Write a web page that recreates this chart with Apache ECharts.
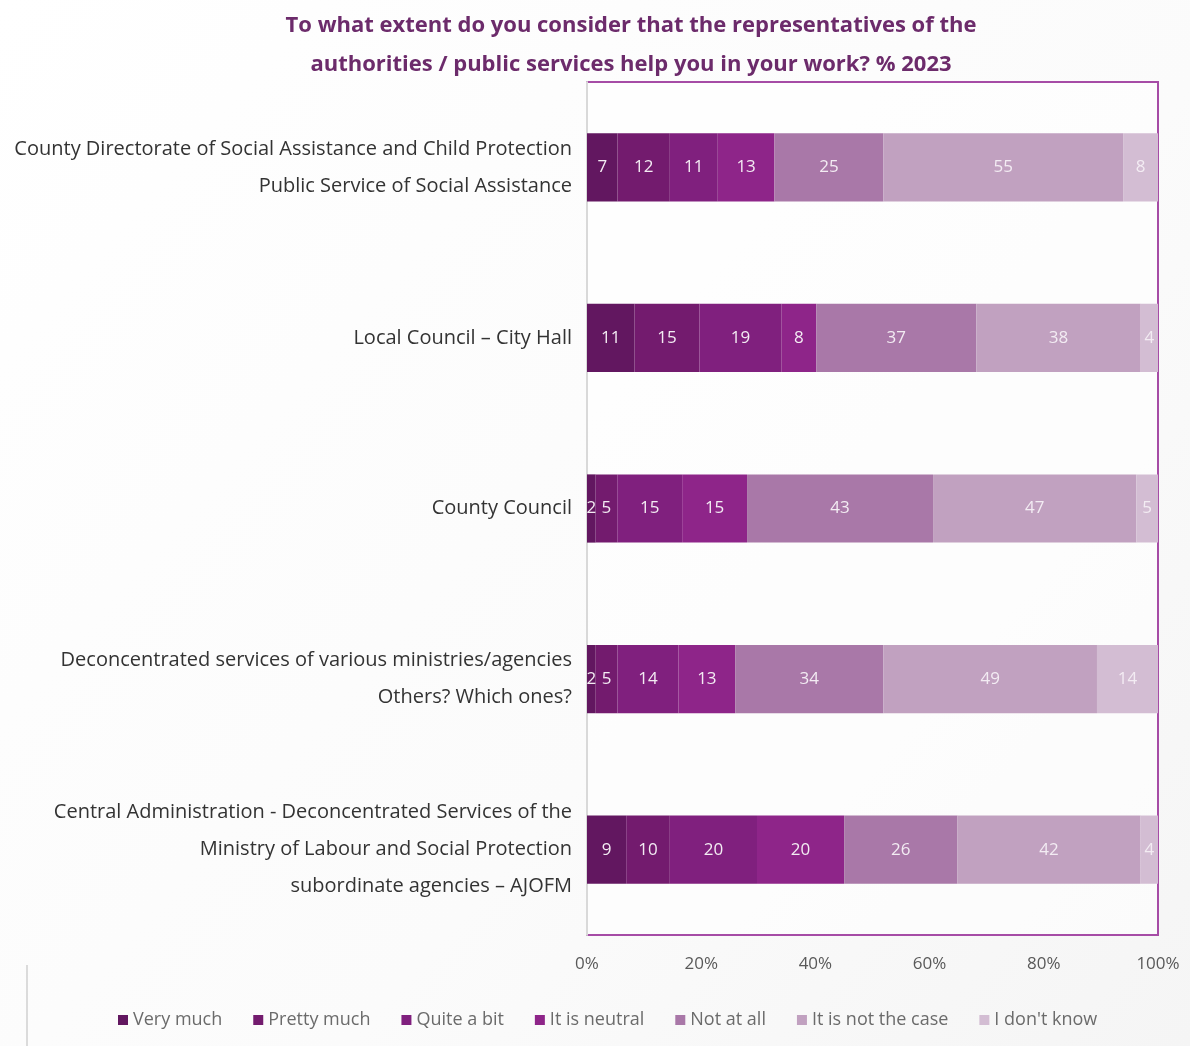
<!DOCTYPE html>
<html>
<head>
<meta charset="utf-8">
<script src="https://cdn.jsdelivr.net/npm/echarts@6/dist/echarts.min.js"></script>
<style>
  html, body { margin: 0; padding: 0; background: #ffffff; }
  #chart { width: 1190px; height: 1046px; }
</style>
</head>
<body>
<div id="chart"></div>
<script>
// Institutions asked about (top to bottom)
const categories = [
  'County Directorate of Social Assistance and Child Protection\nPublic Service of Social Assistance',
  'Local Council – City Hall',
  'County Council',
  'Deconcentrated services of various ministries/agencies\nOthers? Which ones?',
  'Central Administration - Deconcentrated Services of the\nMinistry of Labour and Social Protection\nsubordinate agencies – AJOFM'
];

// Answer options, in stacking order
const seriesNames = ['Very much', 'Pretty much', 'Quite a bit', 'It is neutral', 'Not at all', 'It is not the case', "I don't know"];

// Respondent counts per answer, one array per answer option (same order as categories)
const veryMuch    = [7, 11, 2, 2, 9];
const prettyMuch  = [12, 15, 5, 5, 10];
const quiteABit   = [11, 19, 15, 14, 20];
const neutral     = [13, 8, 15, 13, 20];
const notAtAll    = [25, 37, 43, 34, 26];
const notTheCase  = [55, 38, 47, 49, 42];
const dontKnow    = [8, 4, 5, 14, 4];

const xTicks = ['0%', '20%', '40%', '60%', '80%', '100%'];

const colors = ['#621760', '#731b6e', '#80207e', '#8e2589', '#a978a8', '#c1a1c0', '#d3bdd3'];

const counts = [veryMuch, prettyMuch, quiteABit, neutral, notAtAll, notTheCase, dontKnow];
const totals = categories.map((_, i) => counts.reduce((s, arr) => s + arr[i], 0));

const series = counts.map((arr, k) => ({
  name: seriesNames[k],
  type: 'bar',
  stack: 'total',
  barWidth: '40%',
  itemStyle: { color: colors[k] },
  label: {
    show: true,
    position: 'inside',
    color: '#f3ecf3',
    fontFamily: 'Open Sans',
    fontSize: 17,
    formatter: p => String(p.data.count)
  },
  data: arr.map((v, i) => ({ value: v / totals[i] * 100, count: v }))
}));

const chart = echarts.init(document.getElementById('chart'));
chart.setOption({
  backgroundColor: {
    type: 'linear', x: 0, y: 0, x2: 1, y2: 1,
    colorStops: [
      { offset: 0, color: '#ffffff' },
      { offset: 0.6, color: '#fbfbfb' },
      { offset: 1, color: '#f5f5f5' }
    ]
  },
  title: {
    text: 'To what extent do you consider that the representatives of the\nauthorities / public services help you in your work? % 2023',
    left: 626,
    textAlign: 'center',
    top: 1,
    textStyle: {
      color: '#6c2b6b',
      fontFamily: 'Open Sans',
      fontWeight: 'bold',
      fontSize: 22,
      lineHeight: 39
    }
  },
  legend: {
    bottom: 12,
    left: 113,
    itemWidth: 10,
    itemHeight: 10,
    itemGap: 31,
    icon: 'rect',
    textStyle: { color: '#6b6b6b', fontFamily: 'Open Sans', fontSize: 18 },
    data: seriesNames
  },
  grid: {
    left: 587,
    right: 32,
    top: 82,
    bottom: 111,
    show: true,
    borderColor: '#a64ca6',
    borderWidth: 2,
    backgroundColor: 'rgba(255,255,255,0.6)'
  },
  xAxis: {
    type: 'value',
    min: 0,
    max: 100,
    interval: 20,
    axisLine: { show: false },
    axisTick: { show: false },
    splitLine: { show: false },
    axisLabel: {
      color: '#595959',
      fontFamily: 'Open Sans',
      fontSize: 17,
      margin: 21,
      formatter: v => xTicks[v / 20]
    }
  },
  yAxis: {
    type: 'category',
    inverse: true,
    data: categories,
    axisLine: { show: true, lineStyle: { color: '#d9d9d9', width: 2 } },
    axisTick: { show: false },
    axisLabel: {
      color: '#333333',
      fontFamily: 'Open Sans',
      fontSize: 20,
      lineHeight: 37,
      margin: 15,
      padding: [4, 0, 0, 0],
      align: 'right'
    }
  },
  graphic: [{
    type: 'line',
    shape: { x1: 27, y1: 965, x2: 27, y2: 1046 },
    style: { stroke: '#d0d0d0', lineWidth: 1.5 }
  }],
  series: series
});
</script>
</body>
</html>
